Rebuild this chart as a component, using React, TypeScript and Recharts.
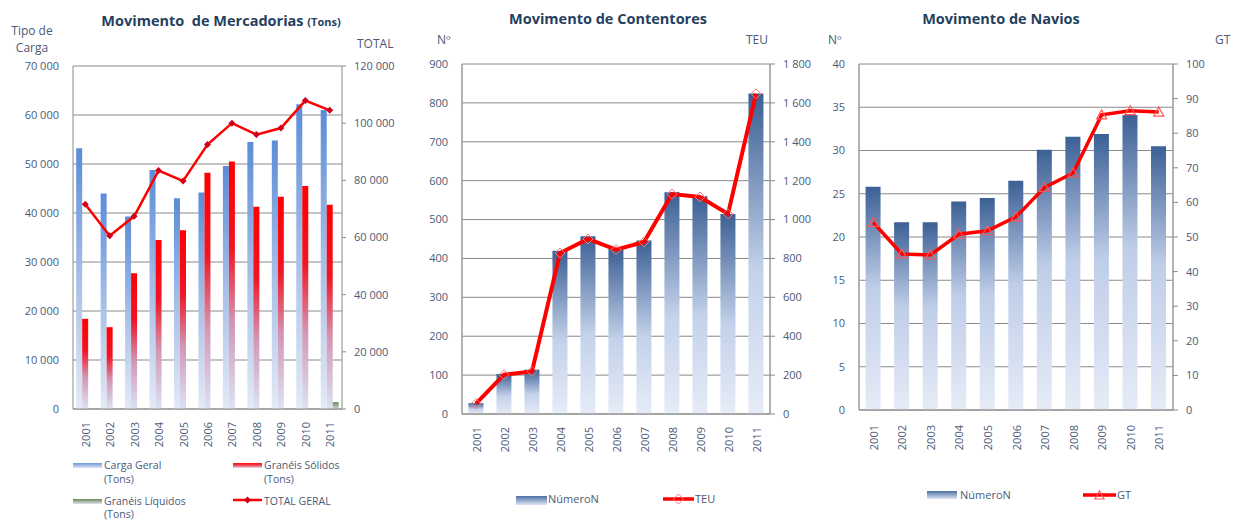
import React from "react";
import {
    ComposedChart,
    Bar,
    Line,
    XAxis,
    YAxis,
    CartesianGrid,
} from "recharts";

const years = ["2001", "2002", "2003", "2004", "2005", "2006", "2007", "2008", "2009", "2010", "2011"];

// Movimento de Mercadorias (Tons)
const cargaGeral = [53200, 44000, 39300, 48800, 43000, 44200, 49600, 54500, 54800, 62200, 61000];
const graneisSolidos = [18400, 16700, 27700, 34500, 36500, 48200, 50500, 41300, 43300, 45500, 41700];
const graneisLiquidos = [0, 0, 0, 0, 0, 0, 0, 0, 0, 0, 1400];
const totalGeral = [71600, 60600, 67400, 83400, 79800, 92500, 100000, 96000, 98300, 107900, 104500];
const mercLeftTicks = [0, 10000, 20000, 30000, 40000, 50000, 60000, 70000];
const mercRightTicks = [0, 20000, 40000, 60000, 80000, 100000, 120000];

// Movimento de Contentores
const contentoresN = [28, 103, 114, 420, 457, 426, 446, 570, 560, 514, 824];
const contentoresTEU = [53, 202, 219, 828, 900, 845, 885, 1131, 1116, 1029, 1647];
const contLeftTicks = [0, 100, 200, 300, 400, 500, 600, 700, 800, 900];
const contRightTicks = [0, 200, 400, 600, 800, 1000, 1200, 1400, 1600, 1800];

// Movimento de Navios
const naviosN = [25.8, 21.7, 21.7, 24.1, 24.5, 26.5, 30.1, 31.6, 31.9, 34.1, 30.5];
const naviosGT = [54.2, 45.1, 44.8, 50.8, 51.8, 55.8, 64.3, 68.5, 85.3, 86.5, 86.1];
const navLeftTicks = [0, 5, 10, 15, 20, 25, 30, 35, 40];
const navRightTicks = [0, 10, 20, 30, 40, 50, 60, 70, 80, 90, 100];

const mercData = years.map((year, i) => ({
    year,
    carga: cargaGeral[i],
    solidos: graneisSolidos[i],
    liquidos: graneisLiquidos[i],
    total: totalGeral[i],
}));
const contData = years.map((year, i) => ({ year, n: contentoresN[i], teu: contentoresTEU[i] }));
const navData = years.map((year, i) => ({ year, n: naviosN[i], gt: naviosGT[i] }));

const FONT = "'Open Sans', 'Noto Sans', sans-serif";
const TEXT = "#4a5a78";
const TITLE = "#263f5e";
const AXIS = "#8a8a8a";

const fmt = (v: number) => String(v).replace(/\B(?=(\d{3})+(?!\d))/g, " ");

const tickStyle = { fill: TEXT, fontSize: 11, fontFamily: FONT };

const makeYearTick = (offset: number) => (props: any) => {
    const { x, y, payload } = props;
    const ty = y + offset;
    return (
        <text
            x={x}
            y={ty}
            transform={`rotate(-90 ${x} ${ty})`}
            textAnchor="end"
            dominantBaseline="central"
            fill={TEXT}
            fontSize={11}
            fontFamily={FONT}
        >
            {payload.value}
        </text>
    );
};

const smallDiamond = (props: any) => {
    const { cx, cy, index } = props;
    return (
        <path
            key={`sd-${index}`}
            d={`M${cx},${cy - 3.5} L${cx + 3.5},${cy} L${cx},${cy + 3.5} L${cx - 3.5},${cy} Z`}
            fill="#d0001c"
        />
    );
};

const hollowDiamond = (props: any) => {
    const { cx, cy, index } = props;
    return (
        <path
            key={`hd-${index}`}
            d={`M${cx},${cy - 5} L${cx + 5},${cy} L${cx},${cy + 5} L${cx - 5},${cy} Z`}
            fill="none"
            stroke="#ff7373"
            strokeWidth={1}
        />
    );
};

const hollowTriangle = (props: any) => {
    const { cx, cy, index } = props;
    return (
        <path
            key={`ht-${index}`}
            d={`M${cx},${cy - 5} L${cx + 5},${cy + 4} L${cx - 5},${cy + 4} Z`}
            fill="none"
            stroke="#ff5555"
            strokeWidth={1.2}
        />
    );
};

const MercadoriasChart = () => (
    <ComposedChart
        width={410}
        height={521}
        data={mercData}
        margin={{ top: 66, right: 0, bottom: 62, left: 0 }}
        barCategoryGap="13%"
        barGap={0}
    >
        <defs>
            <linearGradient id="gBlue1" x1="0" y1="0" x2="0" y2="1">
                <stop offset="0%" stopColor="#5a8cd8" />
                <stop offset="50%" stopColor="#a6bfe7" />
                <stop offset="100%" stopColor="#e4eaf6" />
            </linearGradient>
            <linearGradient id="gRed1" x1="0" y1="0" x2="0" y2="1">
                <stop offset="0%" stopColor="#ff0000" />
                <stop offset="35%" stopColor="#f11422" />
                <stop offset="65%" stopColor="#d296b4" />
                <stop offset="100%" stopColor="#dbe3f3" />
            </linearGradient>
            <linearGradient id="gGreen1" x1="0" y1="0" x2="0" y2="1">
                <stop offset="0%" stopColor="#6b8a55" />
                <stop offset="100%" stopColor="#c9d4e8" />
            </linearGradient>
        </defs>
        <CartesianGrid yAxisId="left" vertical={false} stroke={AXIS} />
        <XAxis
            dataKey="year"
            interval={0}
            tickLine={false}
            tickSize={0}
            tickMargin={0}
            height={50}
            axisLine={{ stroke: AXIS }}
            tick={makeYearTick(13)}
        />
        <YAxis
            yAxisId="left"
            width={73}
            domain={[0, 70000]}
            ticks={mercLeftTicks}
            interval={0}
            tickFormatter={fmt}
            tickLine={false}
            tickSize={0}
            tickMargin={14}
            axisLine={{ stroke: AXIS }}
            tick={tickStyle}
        />
        <YAxis
            yAxisId="right"
            orientation="right"
            width={68}
            domain={[0, 120000]}
            ticks={mercRightTicks}
            interval={0}
            tickFormatter={fmt}
            tickLine={{ stroke: AXIS }}
            tickSize={4}
            tickMargin={8}
            axisLine={{ stroke: AXIS }}
            tick={{ ...tickStyle, textAnchor: "start" }}
        />
        <Bar yAxisId="left" dataKey="carga" fill="url(#gBlue1)" isAnimationActive={false} />
        <Bar yAxisId="left" dataKey="solidos" fill="url(#gRed1)" isAnimationActive={false} />
        <Bar yAxisId="left" dataKey="liquidos" fill="url(#gGreen1)" isAnimationActive={false} />
        <Line
            yAxisId="right"
            dataKey="total"
            stroke="#ff0000"
            strokeWidth={2.5}
            dot={smallDiamond}
            activeDot={false}
            isAnimationActive={false}
        />
    </ComposedChart>
);

const ContentoresChart = () => (
    <ComposedChart
        width={410}
        height={521}
        data={contData}
        margin={{ top: 64, right: 0, bottom: 57, left: 0 }}
        barCategoryGap="23%"
    >
        <defs>
            <linearGradient id="gNavy2" x1="0" y1="0" x2="0" y2="1">
                <stop offset="0%" stopColor="#3b5f93" />
                <stop offset="55%" stopColor="#c3d1ea" />
                <stop offset="100%" stopColor="#e6ecf7" />
            </linearGradient>
        </defs>
        <CartesianGrid yAxisId="left" vertical={false} stroke={AXIS} />
        <XAxis
            dataKey="year"
            interval={0}
            tickLine={false}
            tickSize={0}
            tickMargin={0}
            height={50}
            axisLine={{ stroke: "#9a9a9a", strokeWidth: 1.5 }}
            tick={makeYearTick(13)}
        />
        <YAxis
            yAxisId="left"
            width={52}
            domain={[0, 900]}
            ticks={contLeftTicks}
            interval={0}
            tickFormatter={fmt}
            tickLine={false}
            tickSize={0}
            tickMargin={14}
            axisLine={{ stroke: "#9a9a9a", strokeWidth: 1.5 }}
            tick={tickStyle}
        />
        <YAxis
            yAxisId="right"
            orientation="right"
            width={50}
            domain={[0, 1800]}
            ticks={contRightTicks}
            interval={0}
            tickFormatter={fmt}
            tickLine={{ stroke: AXIS }}
            tickSize={5}
            tickMargin={8}
            axisLine={{ stroke: "#9a9a9a", strokeWidth: 1.5 }}
            tick={{ ...tickStyle, textAnchor: "start" }}
        />
        <Bar yAxisId="left" dataKey="n" fill="url(#gNavy2)" isAnimationActive={false} />
        <Line
            yAxisId="right"
            dataKey="teu"
            stroke="#ff0000"
            strokeWidth={4}
            dot={hollowDiamond}
            activeDot={false}
            isAnimationActive={false}
        />
    </ComposedChart>
);

const NaviosChart = () => (
    <ComposedChart
        width={414}
        height={521}
        data={navData}
        margin={{ top: 64, right: 0, bottom: 61, left: 0 }}
        barCategoryGap="23%"
    >
        <defs>
            <linearGradient id="gNavy3" x1="0" y1="0" x2="0" y2="1">
                <stop offset="0%" stopColor="#3c6095" />
                <stop offset="45%" stopColor="#bfcde8" />
                <stop offset="100%" stopColor="#e6ecf7" />
            </linearGradient>
        </defs>
        <CartesianGrid yAxisId="left" vertical={false} stroke={AXIS} />
        <XAxis
            dataKey="year"
            interval={0}
            tickLine={false}
            tickSize={0}
            tickMargin={0}
            height={50}
            axisLine={{ stroke: "#9a9a9a", strokeWidth: 1.5 }}
            tick={makeYearTick(15)}
        />
        <YAxis
            yAxisId="left"
            width={39}
            domain={[0, 40]}
            ticks={navLeftTicks}
            interval={0}
            tickLine={false}
            tickSize={0}
            tickMargin={14}
            axisLine={{ stroke: "#9a9a9a", strokeWidth: 1.5 }}
            tick={tickStyle}
        />
        <YAxis
            yAxisId="right"
            orientation="right"
            width={61}
            domain={[0, 100]}
            ticks={navRightTicks}
            interval={0}
            tickLine={{ stroke: AXIS }}
            tickSize={5}
            tickMargin={8}
            axisLine={{ stroke: "#9a9a9a", strokeWidth: 1.5 }}
            tick={{ ...tickStyle, textAnchor: "start" }}
        />
        <Bar yAxisId="left" dataKey="n" fill="url(#gNavy3)" isAnimationActive={false} />
        <Line
            yAxisId="right"
            dataKey="gt"
            stroke="#ff0000"
            strokeWidth={3.5}
            dot={hollowTriangle}
            activeDot={false}
            isAnimationActive={false}
        />
    </ComposedChart>
);

const Overlay = () => (
    <svg
        width={1234}
        height={521}
        style={{ position: "absolute", left: 0, top: 0, pointerEvents: "none" }}
        fontFamily={FONT}
    >
        <defs>
            <linearGradient id="lgBlue" x1="0" y1="0" x2="0" y2="1">
                <stop offset="0%" stopColor="#6a98dc" />
                <stop offset="100%" stopColor="#dde5f4" />
            </linearGradient>
            <linearGradient id="lgRed" x1="0" y1="0" x2="0" y2="1">
                <stop offset="0%" stopColor="#ff1010" />
                <stop offset="45%" stopColor="#f04050" />
                <stop offset="100%" stopColor="#dbe3f3" />
            </linearGradient>
            <linearGradient id="lgGreen" x1="0" y1="0" x2="0" y2="1">
                <stop offset="0%" stopColor="#6b8a55" />
                <stop offset="100%" stopColor="#dbe3f3" />
            </linearGradient>
            <linearGradient id="lgNavy" x1="0" y1="0" x2="0" y2="1">
                <stop offset="0%" stopColor="#4b6fa3" />
                <stop offset="100%" stopColor="#dfe6f4" />
            </linearGradient>
        </defs>

        {/* titles */}
        <text x={221} y={26} textAnchor="middle" fill={TITLE} fontWeight="bold" fontSize={14.5}>
            Movimento{"\u00a0"} de Mercadorias <tspan fontSize={11}>(Tons)</tspan>
        </text>
        <text x={608} y={24} textAnchor="middle" fill={TITLE} fontWeight="bold" fontSize={14.5}>
            Movimento de Contentores
        </text>
        <text x={1001} y={24} textAnchor="middle" fill={TITLE} fontWeight="bold" fontSize={14.5}>
            Movimento de Navios
        </text>

        {/* axis captions */}
        <g fill={TEXT} fontSize={12}>
            <text x={32} y={35} textAnchor="middle">Tipo de</text>
            <text x={32} y={52} textAnchor="middle">Carga</text>
            <text x={357} y={48}>TOTAL</text>
            <text x={437} y={44}>Nº</text>
            <text x={746} y={44}>TEU</text>
            <text x={828} y={44}>Nº</text>
            <text x={1215} y={44}>GT</text>
        </g>

        {/* legend: Mercadorias */}
        <g fill={TEXT} fontSize={10.5}>
            <rect x={73} y={463} width={29} height={5} fill="url(#lgBlue)" />
            <text x={104} y={469}>Carga Geral</text>
            <text x={104} y={482.5}>(Tons)</text>
            <rect x={233} y={463} width={29} height={5} fill="url(#lgRed)" />
            <text x={264} y={469}>Granéis Sólidos</text>
            <text x={264} y={482.5}>(Tons)</text>
            <rect x={73} y={499} width={29} height={5} fill="url(#lgGreen)" />
            <text x={104} y={505}>Granéis Líquidos</text>
            <text x={104} y={518}>(Tons)</text>
            <line x1={233} y1={500} x2={262} y2={500} stroke="#ff0000" strokeWidth={2.5} />
            <path d="M247.5,496.5 L251,500 L247.5,503.5 L244,500 Z" fill="#d0001c" />
            <text x={264} y={505}>TOTAL GERAL</text>
        </g>

        {/* legend: Contentores */}
        <g fill={TEXT} fontSize={11}>
            <rect x={516} y={496} width={31} height={9} fill="url(#lgNavy)" />
            <text x={548} y={503}>NúmeroN</text>
            <line x1={663} y1={499} x2={694} y2={499} stroke="#ff0000" strokeWidth={3.5} />
            <path d="M678.5,494 L683.5,499 L678.5,504 L673.5,499 Z" fill="none" stroke="#ff7373" />
            <text x={695} y={503}>TEU</text>
        </g>

        {/* legend: Navios */}
        <g fill={TEXT} fontSize={11}>
            <rect x={927} y={491} width={30} height={8} fill="url(#lgNavy)" />
            <text x={960} y={499}>NúmeroN</text>
            <line x1={1083} y1={495} x2={1116} y2={495} stroke="#ff0000" strokeWidth={3.5} />
            <path d="M1099.5,491 L1104,499 L1095,499 Z" fill="none" stroke="#ff5555" strokeWidth={1.2} />
            <text x={1117} y={499}>GT</text>
        </g>
    </svg>
);

export default function App() {
    return (
        <div
            style={{
                position: "absolute",
                left: 0,
                top: 0,
                width: 1234,
                height: 521,
                background: "#ffffff",
                overflow: "hidden",
            }}
        >
            <div style={{ position: "absolute", left: 0, top: 0 }}>
                <MercadoriasChart />
            </div>
            <div style={{ position: "absolute", left: 410, top: 0 }}>
                <ContentoresChart />
            </div>
            <div style={{ position: "absolute", left: 820, top: 0 }}>
                <NaviosChart />
            </div>
            <Overlay />
        </div>
    );
}
